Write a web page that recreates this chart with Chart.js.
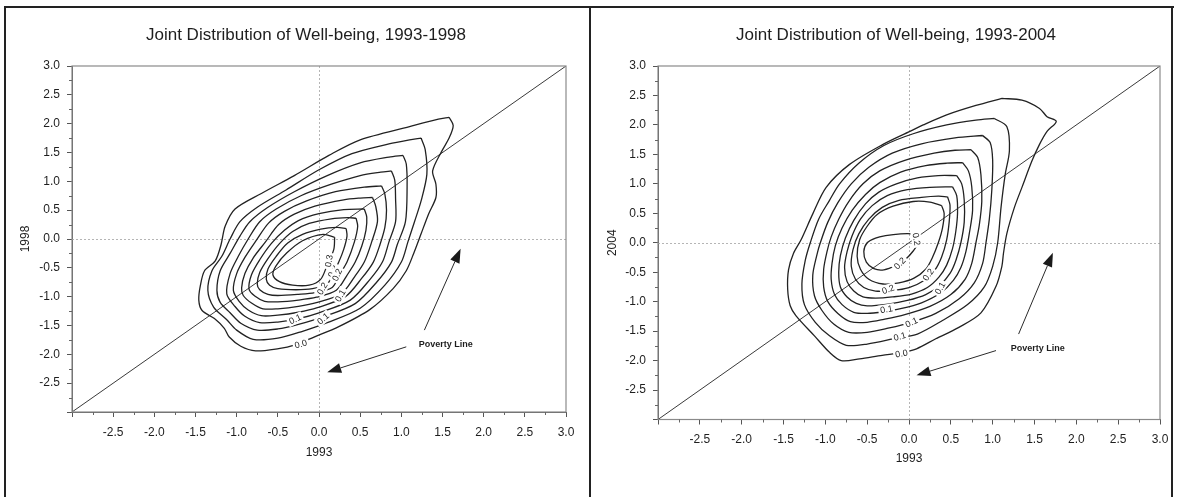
<!DOCTYPE html>
<html><head><meta charset="utf-8">
<script src="https://cdn.jsdelivr.net/npm/chart.js@4.4.1/dist/chart.umd.min.js"></script>
<style>
body{margin:0;background:#fff;}
#wrap{position:relative;width:1179px;height:497px;overflow:hidden;background:#fff}
canvas{position:absolute;top:0}
.ln{position:absolute;background:#222}
.ttl{position:absolute;top:25px;height:20px;line-height:20px;font-family:"Liberation Sans",Arial,sans-serif;font-size:17px;color:#1e1e1e;white-space:nowrap;transform:translateX(-50%)}
</style></head><body>
<div id="wrap">
<canvas id="c1" width="590" height="497" style="left:0"></canvas>
<canvas id="c2" width="589" height="497" style="left:590px"></canvas>
<div class="ttl" style="left:306px">Joint Distribution of Well-being, 1993-1998</div>
<div class="ttl" style="left:896px">Joint Distribution of Well-being, 1993-2004</div>
<div class="ln" style="left:4px;top:6px;width:1170px;height:2px"></div>
<div class="ln" style="left:4px;top:6px;width:2px;height:491px"></div>
<div class="ln" style="left:589px;top:6px;width:2px;height:491px"></div>
<div class="ln" style="left:1171px;top:6px;width:2px;height:491px"></div>
</div>
<script>
// ---------- tick labels ----------
const axisTickValues = [-2.5,-2,-1.5,-1,-0.5,0,0.5,1,1.5,2,2.5,3];
const axisTickLabels = ['-2.5','-2.0','-1.5','-1.0','-0.5','0.0','0.5','1.0','1.5','2.0','2.5','3.0'];
const diagonal = [[-3,-3],[3,3]];

// ---------- 1993-1998 contours (outer -> inner) ----------
const c1998_0 = [[1.58,2.11],[1.63,1.97],[1.58,1.75],[1.49,1.52],[1.38,1.18],[1.42,0.95],[1.42,0.72],[1.33,0.43],[1.24,0.09],[1.15,-0.25],[1.06,-0.55],[0.90,-0.86],[0.62,-1.22],[0.24,-1.52],[-0.06,-1.70],[-0.30,-1.84],[-0.49,-1.90],[-0.77,-1.94],[-0.95,-1.86],[-1.09,-1.70],[-1.15,-1.55],[-1.27,-1.38],[-1.42,-1.24],[-1.46,-1.06],[-1.44,-0.80],[-1.39,-0.55],[-1.26,-0.38],[-1.19,-0.10],[-1.14,0.22],[-1.02,0.52],[-0.70,0.79],[-0.30,1.10],[0.12,1.45],[0.50,1.72],[1.10,1.95],[1.45,2.08]];
const c1998_1 = [[1.24,1.75],[1.29,1.55],[1.31,1.12],[1.24,0.66],[1.16,0.30],[1.08,-0.05],[1.00,-0.40],[0.80,-0.80],[0.50,-1.20],[0.10,-1.45],[-0.20,-1.60],[-0.50,-1.72],[-0.80,-1.74],[-1.00,-1.58],[-1.12,-1.40],[-1.28,-1.18],[-1.35,-0.89],[-1.30,-0.55],[-1.18,-0.30],[-1.08,0.00],[-0.96,0.30],[-0.75,0.55],[-0.40,0.85],[0.00,1.20],[0.40,1.48],[0.85,1.65],[1.10,1.72]];
const c1998_2 = [[1.02,1.45],[1.06,1.30],[1.07,0.90],[1.05,0.30],[0.95,-0.10],[0.88,-0.40],[0.70,-0.75],[0.44,-1.12],[0.05,-1.35],[-0.25,-1.48],[-0.50,-1.56],[-0.75,-1.58],[-0.95,-1.46],[-1.08,-1.28],[-1.20,-1.10],[-1.24,-0.89],[-1.20,-0.55],[-1.08,-0.25],[-0.96,0.05],[-0.84,0.30],[-0.62,0.55],[-0.30,0.82],[0.10,1.10],[0.50,1.32],[0.85,1.42]];
const c1998_3 = [[0.88,1.18],[0.92,1.02],[0.93,0.70],[0.93,0.30],[0.85,-0.05],[0.77,-0.40],[0.62,-0.70],[0.38,-1.06],[0.00,-1.28],[-0.25,-1.38],[-0.50,-1.44],[-0.72,-1.45],[-0.90,-1.34],[-1.02,-1.17],[-1.12,-0.95],[-1.08,-0.60],[-0.98,-0.30],[-0.86,0.00],[-0.72,0.30],[-0.52,0.52],[-0.22,0.75],[0.15,0.95],[0.50,1.10],[0.75,1.16]];
const c1998_4 = [[0.76,0.92],[0.80,0.78],[0.82,0.50],[0.80,0.20],[0.74,-0.10],[0.66,-0.40],[0.52,-0.68],[0.32,-1.00],[-0.02,-1.19],[-0.25,-1.27],[-0.50,-1.32],[-0.70,-1.33],[-0.86,-1.23],[-0.97,-1.08],[-1.04,-0.89],[-1.00,-0.60],[-0.90,-0.32],[-0.76,-0.02],[-0.61,0.28],[-0.42,0.48],[-0.15,0.66],[0.20,0.82],[0.55,0.90]];
const c1998_5 = [[0.65,0.72],[0.69,0.56],[0.71,0.30],[0.64,-0.05],[0.55,-0.40],[0.43,-0.66],[0.27,-0.95],[-0.02,-1.10],[-0.25,-1.17],[-0.50,-1.21],[-0.68,-1.21],[-0.82,-1.11],[-0.92,-0.98],[-0.94,-0.85],[-0.90,-0.60],[-0.80,-0.33],[-0.65,-0.05],[-0.49,0.25],[-0.30,0.43],[-0.05,0.57],[0.30,0.68],[0.50,0.71]];
const c1998_6 = [[0.55,0.52],[0.58,0.38],[0.57,0.15],[0.52,-0.12],[0.44,-0.40],[0.34,-0.63],[0.21,-0.89],[-0.03,-1.01],[-0.25,-1.06],[-0.50,-1.09],[-0.66,-1.08],[-0.78,-0.99],[-0.85,-0.87],[-0.82,-0.62],[-0.72,-0.36],[-0.58,-0.08],[-0.42,0.15],[-0.25,0.32],[0.00,0.44],[0.30,0.51]];
const c1998_7 = [[0.45,0.36],[0.47,0.22],[0.43,-0.05],[0.34,-0.40],[0.25,-0.62],[0.16,-0.84],[-0.05,-0.93],[-0.25,-0.96],[-0.50,-0.98],[-0.62,-0.96],[-0.72,-0.88],[-0.75,-0.78],[-0.72,-0.58],[-0.62,-0.34],[-0.48,-0.08],[-0.32,0.13],[-0.12,0.27],[0.15,0.35],[0.35,0.37]];
const c1998_8 = [[0.33,0.18],[0.34,0.05],[0.30,-0.18],[0.24,-0.40],[0.17,-0.60],[0.10,-0.78],[-0.08,-0.86],[-0.28,-0.88],[-0.50,-0.86],[-0.60,-0.80],[-0.64,-0.70],[-0.62,-0.52],[-0.52,-0.30],[-0.38,-0.07],[-0.20,0.08],[0.02,0.17],[0.22,0.20]];
const c1998_9 = [[0.19,0.03],[0.18,-0.18],[0.10,-0.45],[0.02,-0.70],[-0.12,-0.80],[-0.32,-0.80],[-0.48,-0.74],[-0.56,-0.62],[-0.52,-0.46],[-0.39,-0.24],[-0.20,-0.03],[0.05,0.08]];
const contourLabels1998 = [[-0.22,-1.82,'0.0',-15],[-0.29,-1.39,'0.1',-25],[0.05,-1.38,'0.1',-40],[0.26,-0.98,'0.1',-60],[0.04,-0.86,'0.2',-60],[0.17,-0.56,'0.2',-65],[0.22,-0.62,'0.2',-65],[0.12,-0.38,'0.3',-80]];
const arrows1998 = [[1.28,-1.58,1.72,-0.17],[1.06,-1.87,0.10,-2.31]];
const povertyText1998 = [1.54,-1.83];

// ---------- 1993-2004 contours (outer -> inner) ----------
const c2004_0 = [[1.11,2.45],[1.35,2.42],[1.56,2.28],[1.65,2.14],[1.76,2.06],[1.65,1.89],[1.56,1.67],[1.47,1.39],[1.35,0.94],[1.26,0.60],[1.17,0.16],[1.13,-0.17],[1.11,-0.40],[1.04,-0.74],[0.86,-1.19],[0.59,-1.44],[0.32,-1.63],[0.09,-1.80],[-0.10,-1.87],[-0.32,-1.91],[-0.59,-1.97],[-0.81,-2.00],[-0.95,-1.86],[-1.13,-1.58],[-1.35,-1.24],[-1.42,-1.07],[-1.45,-0.79],[-1.44,-0.46],[-1.38,-0.18],[-1.29,0.05],[-1.15,0.49],[-0.99,0.94],[-0.71,1.33],[-0.31,1.67],[0.01,1.89],[0.17,2.00],[0.45,2.17],[0.80,2.33]];
const c2004_1 = [[1.02,2.11],[1.17,1.97],[1.20,1.56],[1.15,1.16],[1.10,0.60],[1.06,0.00],[1.00,-0.40],[0.90,-0.75],[0.70,-1.05],[0.40,-1.32],[0.10,-1.55],[-0.15,-1.62],[-0.50,-1.72],[-0.75,-1.74],[-0.95,-1.58],[-1.12,-1.35],[-1.25,-1.05],[-1.28,-0.70],[-1.24,-0.30],[-1.18,0.00],[-1.08,0.40],[-0.95,0.72],[-0.83,1.00],[-0.60,1.35],[-0.30,1.65],[0.05,1.85],[0.45,2.00],[0.80,2.08]];
const c2004_2 = [[0.88,1.82],[0.97,1.70],[1.00,1.40],[0.99,0.90],[0.96,0.40],[0.92,0.00],[0.88,-0.35],[0.78,-0.68],[0.60,-0.95],[0.32,-1.20],[0.03,-1.35],[-0.25,-1.45],[-0.50,-1.52],[-0.72,-1.52],[-0.90,-1.38],[-1.04,-1.15],[-1.13,-0.90],[-1.15,-0.55],[-1.10,-0.20],[-1.06,0.00],[-0.97,0.35],[-0.85,0.68],[-0.69,1.00],[-0.48,1.28],[-0.20,1.52],[0.15,1.68],[0.55,1.78]];
const c2004_3 = [[0.74,1.58],[0.82,1.45],[0.86,1.15],[0.87,0.70],[0.84,0.30],[0.80,0.00],[0.75,-0.35],[0.67,-0.62],[0.50,-0.88],[0.25,-1.08],[-0.05,-1.22],[-0.30,-1.30],[-0.50,-1.35],[-0.70,-1.34],[-0.85,-1.20],[-0.97,-1.00],[-1.02,-0.75],[-1.02,-0.45],[-0.98,-0.15],[-0.93,0.10],[-0.84,0.40],[-0.72,0.70],[-0.55,1.00],[-0.35,1.22],[-0.05,1.40],[0.30,1.52],[0.55,1.57]];
const c2004_4 = [[0.64,1.36],[0.71,1.22],[0.75,0.95],[0.76,0.55],[0.72,0.15],[0.68,-0.15],[0.62,-0.42],[0.53,-0.64],[0.38,-0.85],[0.15,-1.02],[-0.10,-1.12],[-0.30,-1.17],[-0.50,-1.20],[-0.66,-1.18],[-0.80,-1.05],[-0.89,-0.88],[-0.93,-0.62],[-0.92,-0.35],[-0.88,-0.05],[-0.80,0.25],[-0.68,0.55],[-0.52,0.82],[-0.35,1.02],[-0.10,1.20],[0.20,1.31],[0.45,1.35]];
const c2004_5 = [[0.57,1.14],[0.63,1.00],[0.66,0.72],[0.66,0.35],[0.62,0.00],[0.56,-0.30],[0.49,-0.52],[0.37,-0.72],[0.20,-0.88],[-0.02,-0.98],[-0.25,-1.04],[-0.50,-1.07],[-0.63,-1.03],[-0.74,-0.92],[-0.82,-0.75],[-0.84,-0.50],[-0.82,-0.22],[-0.76,0.08],[-0.66,0.38],[-0.52,0.66],[-0.36,0.86],[-0.15,1.00],[0.10,1.10],[0.35,1.14]];
const c2004_6 = [[0.52,0.95],[0.57,0.80],[0.58,0.50],[0.56,0.20],[0.52,-0.10],[0.45,-0.38],[0.36,-0.58],[0.22,-0.76],[0.03,-0.87],[-0.20,-0.92],[-0.40,-0.94],[-0.55,-0.92],[-0.66,-0.82],[-0.74,-0.66],[-0.77,-0.42],[-0.74,-0.15],[-0.68,0.12],[-0.58,0.40],[-0.44,0.63],[-0.26,0.80],[-0.02,0.90],[0.25,0.94]];
const c2004_7 = [[0.46,0.78],[0.49,0.64],[0.48,0.35],[0.45,0.05],[0.39,-0.24],[0.31,-0.46],[0.18,-0.64],[0.00,-0.76],[-0.20,-0.81],[-0.40,-0.82],[-0.54,-0.76],[-0.64,-0.62],[-0.69,-0.40],[-0.67,-0.12],[-0.60,0.15],[-0.48,0.40],[-0.32,0.60],[-0.12,0.72],[0.15,0.77],[0.35,0.79]];
const c2004_8 = [[0.39,0.63],[0.42,0.50],[0.40,0.25],[0.35,0.00],[0.28,-0.25],[0.20,-0.45],[0.06,-0.60],[-0.12,-0.68],[-0.31,-0.70],[-0.48,-0.62],[-0.58,-0.45],[-0.62,-0.23],[-0.59,0.05],[-0.50,0.28],[-0.38,0.48],[-0.19,0.62],[0.05,0.70],[0.25,0.69]];
const c2004_9 = [[0.09,0.13],[0.10,-0.02],[0.05,-0.14],[-0.04,-0.28],[-0.15,-0.38],[-0.30,-0.46],[-0.42,-0.44],[-0.51,-0.33],[-0.54,-0.15],[-0.50,0.00],[-0.40,0.08],[-0.28,0.12],[-0.10,0.15],[0.05,0.15]];
const contourLabels2004 = [[0.09,0.06,'0.2',80],[-0.11,-0.35,'0.2',-45],[0.23,-0.54,'0.2',-55],[0.37,-0.77,'0.1',-60],[-0.25,-0.79,'0.2',-20],[-0.27,-1.13,'0.1',-10],[0.03,-1.35,'0.1',-25],[-0.11,-1.59,'0.1',-15],[-0.09,-1.88,'0.0',-10]];
const arrows2004 = [[1.31,-1.55,1.72,-0.17],[1.04,-1.83,0.09,-2.25]];
const povertyText2004 = [1.54,-1.79];

const FONT = '"Liberation Sans", Arial, Helvetica, sans-serif';
const INK = '#1e1e1e';

function makePlugin(labels, arrows, textPos) {
  return {
    id: 'extras',
    beforeDatasetsDraw(chart) {
      const {ctx, chartArea: a, scales: {x, y}} = chart;
      ctx.save();
      ctx.strokeStyle = '#b5b5b5'; ctx.lineWidth = 1; ctx.setLineDash([2, 2]);
      const x0 = Math.round(x.getPixelForValue(0)) + 0.5;
      const y0 = Math.round(y.getPixelForValue(0)) + 0.5;
      ctx.beginPath();
      ctx.moveTo(x0, a.top); ctx.lineTo(x0, a.bottom);
      ctx.moveTo(a.left, y0); ctx.lineTo(a.right, y0);
      ctx.stroke();
      ctx.restore();
    },
    afterDatasetsDraw(chart) {
      const {ctx, chartArea: a, scales: {x, y}} = chart;
      ctx.save();
      ctx.strokeStyle = '#8a8a8a'; ctx.lineWidth = 1.2;
      ctx.strokeRect(a.left, a.top, a.right - a.left, a.bottom - a.top);
      ctx.strokeStyle = '#666'; ctx.lineWidth = 1;
      ctx.beginPath();
      for (let v = -2.75; v < 3; v += 0.5) {
        const px = Math.round(x.getPixelForValue(v)) + 0.5;
        ctx.moveTo(px, a.bottom); ctx.lineTo(px, a.bottom + 3);
        const py = Math.round(y.getPixelForValue(v)) + 0.5;
        ctx.moveTo(a.left, py); ctx.lineTo(a.left - 3, py);
      }
      ctx.stroke();
      ctx.font = '9px ' + FONT;
      ctx.textAlign = 'center'; ctx.textBaseline = 'middle';
      labels.forEach(([lx, ly, t, ang]) => {
        const px = x.getPixelForValue(lx), py = y.getPixelForValue(ly);
        ctx.save();
        ctx.translate(px, py); ctx.rotate(ang * Math.PI / 180);
        const w = ctx.measureText(t).width;
        ctx.fillStyle = '#fff'; ctx.fillRect(-w / 2 - 2, -5, w + 4, 10);
        ctx.fillStyle = INK; ctx.fillText(t, 0, 0.5);
        ctx.restore();
      });
      ctx.strokeStyle = '#2a2a2a'; ctx.fillStyle = '#1a1a1a'; ctx.lineWidth = 1;
      arrows.forEach(([x1, y1, x2, y2]) => {
        const p1x = x.getPixelForValue(x1), p1y = y.getPixelForValue(y1);
        const p2x = x.getPixelForValue(x2), p2y = y.getPixelForValue(y2);
        const ang = Math.atan2(p2y - p1y, p2x - p1x);
        const L = 14, W = 5;
        const bx = p2x - L * Math.cos(ang), by = p2y - L * Math.sin(ang);
        ctx.beginPath(); ctx.moveTo(p1x, p1y); ctx.lineTo(bx, by); ctx.stroke();
        ctx.beginPath();
        ctx.moveTo(p2x, p2y);
        ctx.lineTo(bx + W * Math.sin(ang), by - W * Math.cos(ang));
        ctx.lineTo(bx - W * Math.sin(ang), by + W * Math.cos(ang));
        ctx.closePath(); ctx.fill();
      });
      ctx.font = 'bold 9px ' + FONT;
      ctx.fillStyle = INK;
      ctx.fillText('Poverty Line', x.getPixelForValue(textPos[0]), y.getPixelForValue(textPos[1]));
      ctx.restore();
    }
  };
}

function makeChart(id, contours, labels, arrows, textPos, yTitle, L) {
  const datasets = contours.map(c => ({
    data: c.concat([c[0]]).map(p => ({x: p[0], y: p[1]})),
    showLine: true, pointRadius: 0, borderColor: '#222', borderWidth: 1.3,
    tension: 0.3, fill: false
  }));
  datasets.push({
    data: diagonal.map(p => ({x: p[0], y: p[1]})),
    showLine: true, pointRadius: 0, borderColor: '#3a3a3a', borderWidth: 1, tension: 0
  });
  const tickCb = v => {
    const i = axisTickValues.findIndex(t => Math.abs(t - v) < 1e-6);
    return i >= 0 ? axisTickLabels[i] : '';
  };
  const axisCommon = {
    type: 'linear', min: -3, max: 3,
    grid: {drawOnChartArea: false, drawTicks: true, tickLength: 5, tickColor: '#555', tickWidth: 1},
    border: {display: true, color: '#555', width: 1},
  };
  return new Chart(document.getElementById(id), {
    type: 'scatter',
    data: {datasets},
    options: {
      responsive: false, animation: false, events: [],
      layout: {padding: {left: 0, right: L.right, top: L.top, bottom: 0}},
      plugins: {legend: {display: false}, tooltip: {enabled: false}, title: {display: false}},
      scales: {
        x: Object.assign({}, axisCommon, {
          ticks: {stepSize: 0.5, autoSkip: false, maxRotation: 0, padding: 8, color: INK,
            font: {family: FONT, size: 12}, callback: tickCb},
          title: {display: true, text: '1993', color: INK, font: {family: FONT, size: 12},
            padding: {top: 0, bottom: L.xTitlePad}},
          afterFit: s => { s.height = L.xHeight; }
        }),
        y: Object.assign({}, axisCommon, {
          ticks: {stepSize: 0.5, autoSkip: false, padding: 7, color: INK,
            font: {family: FONT, size: 12}, callback: tickCb},
          title: {display: true, text: yTitle, color: INK, font: {family: FONT, size: 12},
            padding: {top: L.yTitlePad, bottom: 0}},
          afterFit: s => { s.width = L.yWidth; }
        })
      }
    },
    plugins: [makePlugin(labels, arrows, textPos)]
  });
}

makeChart('c1',
  [c1998_0, c1998_1, c1998_2, c1998_3, c1998_4, c1998_5, c1998_6, c1998_7, c1998_8, c1998_9],
  contourLabels1998, arrows1998, povertyText1998, '1998',
  {right: 24, top: 66, xHeight: 85, xTitlePad: 37, yWidth: 72, yTitlePad: 18});

makeChart('c2',
  [c2004_0, c2004_1, c2004_2, c2004_3, c2004_4, c2004_5, c2004_6, c2004_7, c2004_8, c2004_9],
  contourLabels2004, arrows2004, povertyText2004, '2004',
  {right: 19, top: 66, xHeight: 77.5, xTitlePad: 31, yWidth: 68, yTitlePad: 15});
</script>
</body></html>
